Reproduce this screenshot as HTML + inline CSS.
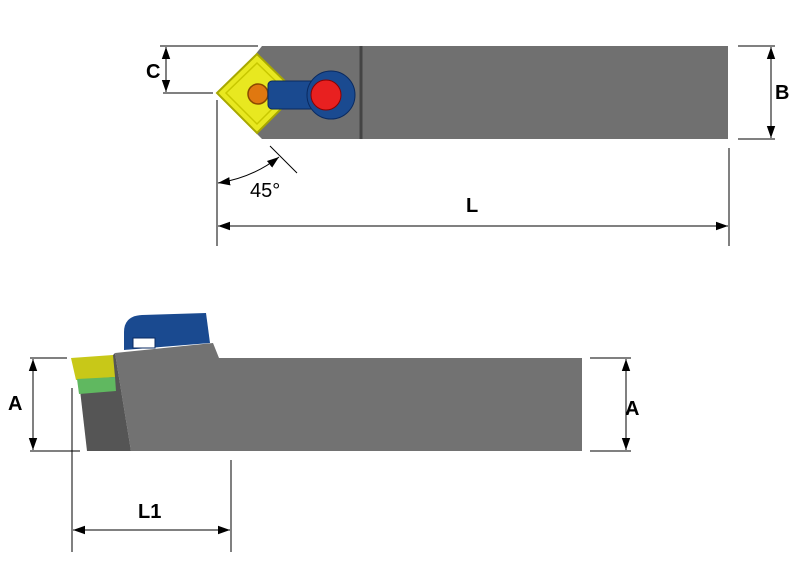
<!DOCTYPE html>
<html><head><style>body{margin:0;background:#fff}svg{display:block}text{font-family:"Liberation Sans",Arial,sans-serif}</style></head><body>
<svg width="800" height="562" viewBox="0 0 800 562" xmlns="http://www.w3.org/2000/svg">
<defs>
<marker id="ar" viewBox="0 0 10 10" refX="10" refY="5" markerWidth="12" markerHeight="12" orient="auto-start-reverse" markerUnits="userSpaceOnUse"><path d="M0,1.5 L10,5 L0,8.5Z" fill="#000"/></marker>
</defs>
<!-- TOP VIEW -->
<polygon points="262,46 728,46 728,139 262,139 235,112 235,80" fill="#707070"/>
<line x1="361" y1="46" x2="361" y2="139" stroke="#444" stroke-width="3"/>
<polygon points="217,93 257,54 297,93 257,133" fill="#e8e820" stroke="#a8a800" stroke-width="2"/>
<polygon points="226,93 257,63 288,93 257,124" fill="none" stroke="#c8c800" stroke-width="1.5"/>
<circle cx="258" cy="94" r="10" fill="#e07810" stroke="#8a4a00" stroke-width="1.5"/>
<rect x="268" y="81" width="60" height="28" rx="4" fill="#1a4a90" stroke="#0a2a60"/>
<circle cx="331" cy="95" r="24" fill="#1a4a90" stroke="#0a2a60"/>
<circle cx="326" cy="95" r="15" fill="#e82020" stroke="#8a0000"/>
<!-- C -->
<line x1="160" y1="46" x2="258" y2="46" stroke="#000"/>
<line x1="163" y1="93" x2="213" y2="93" stroke="#000"/>
<line x1="166" y1="47" x2="166" y2="92" stroke="#000" marker-start="url(#ar)" marker-end="url(#ar)"/>
<text x="146" y="78" font-size="20" font-weight="bold">C</text>
<!-- B -->
<line x1="738" y1="46" x2="775" y2="46" stroke="#000"/>
<line x1="738" y1="139" x2="775" y2="139" stroke="#000"/>
<line x1="771" y1="47" x2="771" y2="138" stroke="#000" marker-start="url(#ar)" marker-end="url(#ar)"/>
<text x="775" y="99" font-size="20" font-weight="bold">B</text>
<!-- L -->
<line x1="217" y1="100" x2="217" y2="246" stroke="#000"/>
<line x1="729" y1="148" x2="729" y2="246" stroke="#000"/>
<line x1="218" y1="226" x2="728" y2="226" stroke="#000" marker-start="url(#ar)" marker-end="url(#ar)"/>
<text x="466" y="212" font-size="20" font-weight="bold">L</text>
<!-- 45 -->
<line x1="270" y1="146" x2="297" y2="173" stroke="#000"/>
<path d="M218,183 Q252,178 279,157" fill="none" stroke="#000" marker-start="url(#ar)" marker-end="url(#ar)"/>
<text x="250" y="197" font-size="20">45°</text>
<!-- BOTTOM VIEW -->
<path d="M124,350 L124,332 Q124,316 142,315 L206,313 L210,343 Z" fill="#1a4a90"/>
<rect x="133" y="338" width="22" height="10" fill="#fff" stroke="#0a2a60"/>
<polygon points="115,353 213,343 219,358 582,358 582,451 131,451" fill="#727272"/>
<polygon points="80,390 115,353 131,451 87,451" fill="#555"/>
<polygon points="71,358 113,355 115,377 76,380" fill="#c8c818"/>
<polygon points="77,379 115,377 116,391 79,394" fill="#60b860"/>
<!-- A left -->
<line x1="30" y1="358" x2="67" y2="358" stroke="#000"/>
<line x1="30" y1="451" x2="80" y2="451" stroke="#000"/>
<line x1="33" y1="359" x2="33" y2="450" stroke="#000" marker-start="url(#ar)" marker-end="url(#ar)"/>
<text x="8" y="410" font-size="20" font-weight="bold">A</text>
<!-- A right -->
<line x1="590" y1="358" x2="631" y2="358" stroke="#000"/>
<line x1="590" y1="451" x2="631" y2="451" stroke="#000"/>
<line x1="626" y1="359" x2="626" y2="450" stroke="#000" marker-start="url(#ar)" marker-end="url(#ar)"/>
<text x="625" y="415" font-size="20" font-weight="bold">A</text>
<!-- L1 -->
<line x1="72" y1="388" x2="72" y2="552" stroke="#000"/>
<line x1="231" y1="460" x2="231" y2="552" stroke="#000"/>
<line x1="73" y1="530" x2="230" y2="530" stroke="#000" marker-start="url(#ar)" marker-end="url(#ar)"/>
<text x="138" y="518" font-size="20" font-weight="bold">L1</text>
</svg>
</body></html>
